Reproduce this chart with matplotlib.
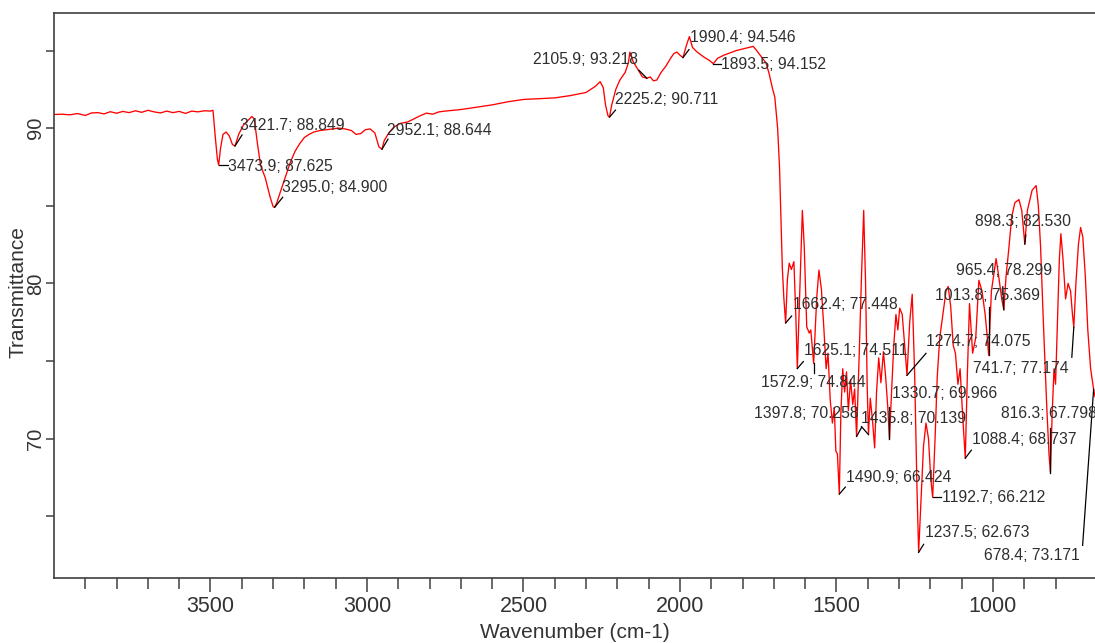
import matplotlib
matplotlib.use("Agg")
import matplotlib.pyplot as plt
from matplotlib import font_manager as fm
import numpy as np

# ---------------- data ----------------
wavenumber = [
    4000, 3975, 3950, 3925, 3900, 3880, 3860, 3840, 3820, 3800, 3780, 3760, 3740, 3720,
    3700, 3680, 3660, 3640, 3620, 3600, 3580, 3560, 3540, 3520, 3500, 3492, 3485, 3478,
    3473.9, 3468, 3460, 3450, 3440, 3430, 3421.7, 3410, 3395, 3380, 3368, 3360, 3350,
    3340, 3325, 3310, 3300, 3295.0, 3288, 3275, 3260, 3245, 3230, 3215, 3200, 3185,
    3170, 3150, 3130, 3110, 3090, 3070, 3050, 3035, 3020, 3005, 2990, 2975, 2962,
    2952.1, 2945, 2930, 2915, 2895, 2870, 2850, 2830, 2810, 2790, 2770, 2750, 2700,
    2650, 2600, 2550, 2500, 2450, 2400, 2350, 2300, 2270, 2255, 2245, 2238, 2230,
    2225.2, 2218, 2205, 2192, 2175, 2165, 2160, 2150, 2135, 2120, 2105.9, 2095, 2085,
    2074, 2060, 2045, 2030, 2020, 2010, 2000, 1990.4, 1980, 1970, 1960, 1945, 1925,
    1905, 1893.5, 1880, 1860, 1840, 1820, 1800, 1780, 1766, 1755, 1740, 1725, 1715,
    1705, 1697, 1688, 1682, 1677, 1673, 1668, 1662.4, 1657, 1651, 1644, 1636, 1630,
    1625.1, 1616, 1609, 1603, 1595, 1587, 1582, 1572.9, 1563, 1556, 1548, 1540, 1533,
    1527, 1520, 1513, 1507, 1502, 1497, 1490.9, 1486, 1480, 1474, 1468, 1462, 1455,
    1448, 1442, 1435.8, 1428, 1420, 1413, 1407, 1402, 1397.8, 1392, 1385, 1378, 1372,
    1365, 1358, 1350, 1343, 1336, 1330.7, 1324, 1317, 1310, 1304, 1298, 1290, 1282,
    1274.7, 1266, 1258, 1250, 1243, 1237.5, 1230, 1222, 1214, 1206, 1199, 1192.7,
    1185, 1178, 1170, 1160, 1150, 1143, 1135, 1127, 1120, 1112, 1105, 1097, 1088.4,
    1082, 1075, 1065, 1055, 1045, 1035, 1025, 1018, 1013.8, 1005, 997, 990, 982, 972,
    965.4, 958, 950, 940, 930, 917, 908, 898.3, 890, 875, 862, 855, 848, 838, 828, 821,
    816.3, 811, 805, 800, 794, 788, 783, 776, 768, 760, 752, 746, 741.7, 735, 727, 720,
    713, 705, 697, 688, 678.4, 674,
]
transmittance = [
    90.88, 90.90, 90.86, 90.94, 90.82, 90.98, 91.00, 90.92, 91.06, 90.96, 91.08, 91.00, 91.12, 91.02,
    91.15, 91.05, 90.98, 91.10, 91.00, 91.08, 90.95, 91.10, 91.05, 91.12, 91.10, 91.15, 89.50, 88.00,
    87.625, 88.70, 89.60, 89.75, 89.50, 88.95, 88.849, 89.60, 90.20, 90.50, 90.75, 90.60, 89.00,
    87.60, 86.80, 85.60, 84.95, 84.900, 85.20, 86.00, 86.90, 87.80, 88.50, 89.00, 89.40, 89.60,
    89.75, 89.85, 89.90, 89.95, 90.00, 89.95, 89.85, 89.60, 89.65, 89.90, 89.95, 89.70, 88.80,
    88.644, 89.20, 89.70, 90.05, 90.30, 90.40, 90.60, 90.80, 90.97, 90.90, 91.05, 91.10, 91.20,
    91.35, 91.50, 91.70, 91.85, 91.90, 91.95, 92.10, 92.30, 92.70, 93.00, 92.60, 91.50, 90.80,
    90.711, 91.50, 92.50, 93.10, 93.60, 94.20, 94.90, 94.30, 93.80, 93.30, 93.218, 93.30, 93.05,
    93.10, 93.60, 94.00, 94.50, 94.80, 94.90, 94.70, 94.546, 95.30, 95.90, 95.20, 94.90, 94.60,
    94.35, 94.152, 94.50, 94.70, 94.85, 95.00, 95.10, 95.20, 95.27, 95.00, 94.60, 94.20, 93.50,
    92.60, 92.00, 90.00, 87.50, 84.00, 81.00, 79.00, 77.448, 80.20, 81.30, 80.90, 81.40, 78.00,
    74.511, 80.20, 84.70, 82.40, 77.20, 76.80, 77.00, 74.844, 79.10, 80.86, 79.60, 77.00, 74.50,
    75.50, 72.50, 71.00, 72.00, 69.20, 69.00, 66.424, 71.60, 74.50, 73.00, 74.30, 71.80, 73.80,
    72.20, 73.20, 70.139, 75.00, 80.50, 84.70, 80.00, 73.50, 70.258, 72.60, 71.20, 69.40, 73.00,
    75.20, 73.60, 75.60, 74.00, 72.00, 69.966, 73.00, 76.00, 78.00, 77.00, 78.40, 78.00, 76.00,
    74.075, 77.50, 79.30, 74.00, 67.00, 62.673, 66.00, 69.50, 71.00, 70.00, 67.50, 66.212,
    70.00, 74.00, 76.50, 78.00, 79.50, 79.80, 78.50, 76.00, 75.50, 73.50, 74.50, 71.50, 68.737,
    74.00, 78.70, 75.50, 76.50, 80.20, 79.50, 78.00, 76.50, 75.369, 79.50, 80.60, 81.60, 80.50, 79.00,
    78.299, 80.50, 82.10, 84.30, 85.20, 85.40, 84.70, 82.530, 84.70, 86.00, 86.30, 85.00, 82.40, 77.00, 72.00, 69.00,
    67.798, 71.50, 74.50, 73.50, 77.50, 81.50, 83.20, 81.50, 79.00, 80.00, 79.50, 78.00, 77.174, 80.00, 82.50, 83.60,
    83.00, 80.50, 77.00, 74.50, 73.171, 72.70,
]

peak_x = [3473.9, 3421.7, 3295.0, 2952.1, 2225.2, 2105.9, 1990.4, 1893.5, 1662.4, 1625.1,
          1572.9, 1490.9, 1435.8, 1397.8, 1330.7, 1274.7, 1237.5, 1192.7, 1088.4, 1013.8,
          965.4, 898.3, 816.3, 741.7, 678.4]
peak_y = [87.625, 88.849, 84.900, 88.644, 90.711, 93.218, 94.546, 94.152, 77.448, 74.511,
          74.844, 66.424, 70.139, 70.258, 69.966, 74.075, 62.673, 66.212, 68.737, 75.369,
          78.299, 82.530, 67.798, 77.174, 73.171]
peak_labels = ["3473.9; 87.625", "3421.7; 88.849", "3295.0; 84.900", "2952.1; 88.644",
               "2225.2; 90.711", "2105.9; 93.218", "1990.4; 94.546", "1893.5; 94.152",
               "1662.4; 77.448", "1625.1; 74.511", "1572.9; 74.844", "1490.9; 66.424",
               "1435.8; 70.139", "1397.8; 70.258", "1330.7; 69.966", "1274.7; 74.075",
               "1237.5; 62.673", "1192.7; 66.212", "1088.4; 68.737", "1013.8; 75.369",
               "965.4; 78.299", "898.3; 82.530", "816.3; 67.798", "741.7; 77.174",
               "678.4; 73.171"]

# leader line end offsets and text anchor offsets (pixels, image y downward)
line_off = [(9, 0), (7, -11), (8, -10), (6, -10), (6, -7), (-8, -8), (6, -8), (8, 0),
            (6, -7), (6, -7), (0, 10), (6, -7), (5, -9), (-7, -8), (0, -32), (19, -22),
            (5, -8), (8, 0), (6, -8), (0, -48), (-1, -23), (1, -9), (0, -45), (-2, 30),
            (-11, 156)]
text_off = [(9, 1), (5, -21), (7, -20), (5, -19), (6, -18), (-9, -19), (7, -20), (8, 1),
            (7, -18), (7, -18), (0, 19.5), (7, -17), (4, -18), (-10, -21), (3, -45.5), (19, -33.4),
            (6, -20), (9, 0), (7, -18.6), (-1, -60), (0, -39), (-2, -22.4), (-2, -59), (-101, 41),
            (-110, 166)]
text_ha = ["left", "left", "left", "left", "left", "right", "left", "left",
           "left", "left", "center", "left", "left", "right", "left", "left",
           "left", "left", "left", "center", "center", "center", "center", "left",
           "left"]

# ---------------- fonts ----------------
names = {f.name for f in fm.fontManager.ttflist}
narrow = "Liberation Sans Narrow" if "Liberation Sans Narrow" in names else "Liberation Sans"
regular = "Liberation Sans"

W, H, DPI = 1095, 643, 100
fig = plt.figure(figsize=(W / DPI, H / DPI), dpi=DPI)
left, right, top, bottom = 54, 1095, 13.3, 578.3
ax = fig.add_axes([left / W, 1 - bottom / H, (right - left) / W, (bottom - top) / H])

ax.plot(wavenumber, transmittance, color="#ff0000", lw=0.95, zorder=2)
ax.set_xlim(4000, 674)
ax.set_ylim(61.0, 97.4)

ax.set_xticks([3500, 3000, 2500, 2000, 1500, 1000])
ax.set_xticks(np.arange(3900, 700, -100), minor=True)
ax.set_yticks([70, 80, 90])
ax.set_yticks([65, 75, 85, 95], minor=True)

spine_c = "#404040"
for s in ["left", "bottom", "top"]:
    ax.spines[s].set_color(spine_c)
    ax.spines[s].set_linewidth(1.2)
ax.spines["right"].set_visible(False)

ax.tick_params(axis="x", which="major", direction="out", length=10, width=1.1, color=spine_c,
               pad=3, labelsize=15.5, labelcolor="#333333")
ax.tick_params(axis="x", which="minor", direction="out", length=8, width=1.1, color=spine_c)
ax.tick_params(axis="y", which="both", direction="out", length=6, width=1.1, color=spine_c,
               pad=0.5, labelsize=14.5, labelcolor="#333333")
for lab in ax.get_xticklabels():
    lab.set_family(narrow)
for lab in ax.get_yticklabels():
    lab.set_family(narrow)
    lab.set_rotation(90)
    lab.set_va("center")

ax.set_xlabel("Wavenumber (cm-1)", family=narrow, fontsize=15, color="#333333", labelpad=4)
fig.text(18 / W, 1 - 292 / H, "Transmittance", rotation=90, ha="center", va="center",
         family=regular, fontsize=15, color="#333333")

# annotations
fig.canvas.draw()
to_disp = ax.transData
inv = ax.transData.inverted()
for x, y, lab, lo, to, ha in zip(peak_x, peak_y, peak_labels, line_off, text_off, text_ha):
    px, py = to_disp.transform((x, y))
    ex, ey = inv.transform((px + lo[0], py - lo[1]))
    ax.plot([x, ex], [y, ey], color="black", lw=0.9, zorder=3, clip_on=False)
    tx, ty = inv.transform((px + to[0], py - to[1]))
    ax.text(tx, ty, lab, ha=ha, va="center", fontsize=11.3, family=regular,
            color="#2e2e2e", zorder=4, clip_on=False)

fig.savefig("out.png", dpi=DPI, facecolor="white")
